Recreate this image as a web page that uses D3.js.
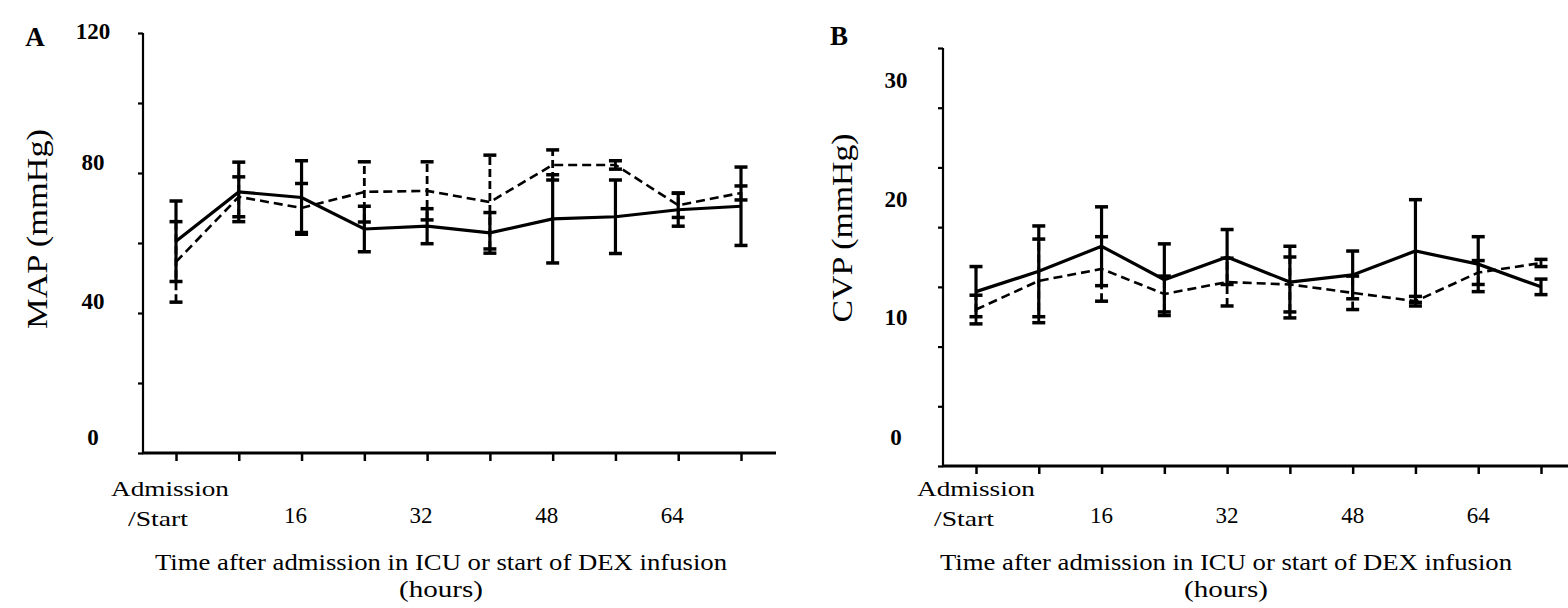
<!DOCTYPE html>
<html>
<head>
<meta charset="utf-8">
<script src="https://cdn.jsdelivr.net/npm/d3@7"></script>
<style>
  body { margin: 0; background: #fff; }
  text { font-family: "Liberation Serif", "Times New Roman", serif; fill: #000; }
</style>
</head>
<body>
<svg id="fig" width="1568" height="608"></svg>
<script>
// Sampling times (hours after ICU admission / start of DEX infusion)
const timeHours = [0, 8, 16, 24, 32, 40, 48, 56, 64, 72];
const xLabelHours = [16, 32, 48, 64];
const xStartLabel = ["Admission", "/Start"];

// Panel A: mean arterial pressure (mmHg), mean and SD
const mapSolidMean  = [60.5, 74.6, 73.0, 64.0, 64.8, 62.9, 66.9, 67.5, 69.5, 70.5];
const mapSolidSd    = [11.5, 8.5, 10.5, 6.5, 5.0, 5.8, 12.6, 10.5, 4.7, 11.2];
const mapDashedMean = [54.6, 73.2, 70.0, 74.6, 74.9, 71.7, 82.3, 82.3, 70.8, 74.3];
const mapDashedSd   = [11.5, 5.7, 7.0, 8.6, 8.3, 13.4, 4.3, 1.2, 3.5, 2.0];
const mapYLabels    = [0, 40, 80, 120];

// Panel B: central venous pressure (mmHg), mean and SD
const cvpSolidMean  = [14.6, 16.3, 18.4, 15.6, 17.5, 15.4, 16.0, 18.0, 16.9, 15.0];
const cvpSolidSd    = [2.1, 3.8, 3.3, 3.0, 2.3, 3.0, 2.0, 4.3, 2.3, 0.65];
const cvpDashedMean = [13.1, 15.5, 16.5, 14.4, 15.4, 15.2, 14.5, 13.8, 16.2, 17.0];
const cvpDashedSd   = [1.2, 3.5, 2.7, 1.5, 2.0, 2.3, 1.4, 0.4, 1.0, 0.3];
const cvpYLabels    = [0, 10, 20, 30];

const xTitle = "Time after admission in ICU or start of DEX infusion";
const xTitleUnit = "(hours)";

const panels = [
  {
    letter: "A", yTitle: "MAP (mmHg)",
    yMax: 120, yStep: 20, yLabels: mapYLabels,
    solid: { mean: mapSolidMean, sd: mapSolidSd },
    dashed: { mean: mapDashedMean, sd: mapDashedSd },
    box: { left: 143, right: 776, top: 33, bottom: 453, x0: 176, x1: 741 },
    labelX: 93, labelShift: { 0: -16, 40: -12, 80: -11, 120: -2 },
    xLabelShift: -6, letterAt: [35, 46], titleX: 47, titleY: 229, titleLen: 200,
    xTitleX: 441, xTitleLen: 572
  },
  {
    letter: "B", yTitle: "CVP (mmHg)",
    yMax: 35, yStep: 5, yLabels: cvpYLabels,
    solid: { mean: cvpSolidMean, sd: cvpSolidSd },
    dashed: { mean: cvpDashedMean, sd: cvpDashedSd },
    box: { left: 943, right: 1568, top: 48, bottom: 466, x0: 976, x1: 1541 },
    labelX: 896, labelShift: { 0: -29, 10: -29, 20: -28, 30: -27 },
    xLabelShift: 0, letterAt: [839, 45], titleX: 852, titleY: 228, titleLen: 189,
    xTitleX: 1226, xTitleLen: 572
  }
];

const svg = d3.select("#fig");

panels.forEach(p => {
  const b = p.box;
  const x = d3.scaleLinear().domain([0, 72]).range([b.x0, b.x1]);
  const y = d3.scaleLinear().domain([0, p.yMax]).range([b.bottom, b.top]);
  const g = svg.append("g");

  // y axis: ticks only, labels placed separately
  const yAxis = g.append("g")
    .attr("transform", `translate(${b.left},0)`)
    .call(d3.axisLeft(y).tickValues(d3.range(0, p.yMax + 0.001, p.yStep)).tickSize(5).tickFormat(""));
  yAxis.select(".domain").remove();
  yAxis.selectAll("line").attr("stroke", "#000").attr("stroke-width", 2.2);

  // x axis ticks
  const xAxis = g.append("g")
    .attr("transform", `translate(0,${b.bottom})`)
    .call(d3.axisBottom(x).tickValues(timeHours).tickSize(8).tickFormat(""));
  xAxis.select(".domain").remove();
  xAxis.selectAll("line").attr("stroke", "#000").attr("stroke-width", 2.5);

  // axis lines
  g.append("line").attr("x1", b.left).attr("x2", b.left)
    .attr("y1", b.top).attr("y2", b.bottom)
    .attr("stroke", "#000").attr("stroke-width", 2.2);
  g.append("line").attr("x1", b.left - 1).attr("x2", b.right)
    .attr("y1", b.bottom).attr("y2", b.bottom)
    .attr("stroke", "#000").attr("stroke-width", 3.2);

  // y tick labels
  g.selectAll("text.ylab").data(p.yLabels).join("text")
    .attr("class", "ylab")
    .attr("x", p.labelX)
    .attr("y", d => y(d) + p.labelShift[d])
    .attr("text-anchor", "middle")
    .attr("dominant-baseline", "central")
    .attr("font-size", 23).attr("font-weight", "bold")
    .text(d => d);

  // x tick labels
  g.append("text").attr("x", x(0) + p.xLabelShift).attr("y", 496)
    .attr("text-anchor", "middle").attr("font-size", 22)
    .attr("textLength", 118).attr("lengthAdjust", "spacingAndGlyphs")
    .text(xStartLabel[0]);
  g.append("text").attr("x", x(0) + p.xLabelShift - 12).attr("y", 526)
    .attr("text-anchor", "middle").attr("font-size", 22)
    .attr("textLength", 60).attr("lengthAdjust", "spacingAndGlyphs")
    .text(xStartLabel[1]);
  g.selectAll("text.xlab").data(xLabelHours).join("text")
    .attr("class", "xlab")
    .attr("x", d => x(d) + p.xLabelShift).attr("y", 523)
    .attr("text-anchor", "middle").attr("font-size", 23)
    .text(d => d);

  // axis titles
  g.append("text").attr("x", p.xTitleX).attr("y", 570)
    .attr("text-anchor", "middle").attr("font-size", 24)
    .attr("textLength", p.xTitleLen).attr("lengthAdjust", "spacingAndGlyphs")
    .text(xTitle);
  g.append("text").attr("x", p.xTitleX).attr("y", 597)
    .attr("text-anchor", "middle").attr("font-size", 24)
    .attr("textLength", 84).attr("lengthAdjust", "spacingAndGlyphs")
    .text(xTitleUnit);
  g.append("text")
    .attr("transform", `translate(${p.titleX},${p.titleY}) rotate(-90)`)
    .attr("text-anchor", "middle").attr("font-size", 30)
    .attr("textLength", p.titleLen).attr("lengthAdjust", "spacingAndGlyphs")
    .text(p.yTitle);

  // panel letter
  g.append("text").attr("x", p.letterAt[0]).attr("y", p.letterAt[1])
    .attr("text-anchor", "middle").attr("font-size", 27).attr("font-weight", "bold")
    .text(p.letter);

  // series: dashed first, solid on top
  const series = [
    { data: p.dashed, dash: "9,5", lw: 2.6, bw: 2.8 },
    { data: p.solid, dash: null, lw: 3.2, bw: 3.2 }
  ];
  series.forEach(s => {
    const pts = timeHours.map((t, i) => ({ t, m: s.data.mean[i], sd: s.data.sd[i] }));
    const sg = g.append("g");
    // error bars
    sg.selectAll("line.bar").data(pts).join("line")
      .attr("class", "bar")
      .attr("x1", d => x(d.t)).attr("x2", d => x(d.t))
      .attr("y1", d => y(d.m - d.sd)).attr("y2", d => y(d.m + d.sd))
      .attr("stroke", "#000").attr("stroke-width", s.bw)
      .attr("stroke-dasharray", s.dash ? "8,4" : null);
    const caps = pts.flatMap(d => [d.m - d.sd, d.m + d.sd].map(v => ({ t: d.t, v })));
    sg.selectAll("line.cap").data(caps).join("line")
      .attr("class", "cap")
      .attr("x1", d => x(d.t) - 6.5).attr("x2", d => x(d.t) + 6.5)
      .attr("y1", d => y(d.v)).attr("y2", d => y(d.v))
      .attr("stroke", "#000").attr("stroke-width", 3.5);
    // mean line
    sg.append("path").datum(pts)
      .attr("d", d3.line().x(d => x(d.t)).y(d => y(d.m)))
      .attr("fill", "none").attr("stroke", "#000")
      .attr("stroke-width", s.lw)
      .attr("stroke-dasharray", s.dash);
  });
});
</script>
</body>
</html>
